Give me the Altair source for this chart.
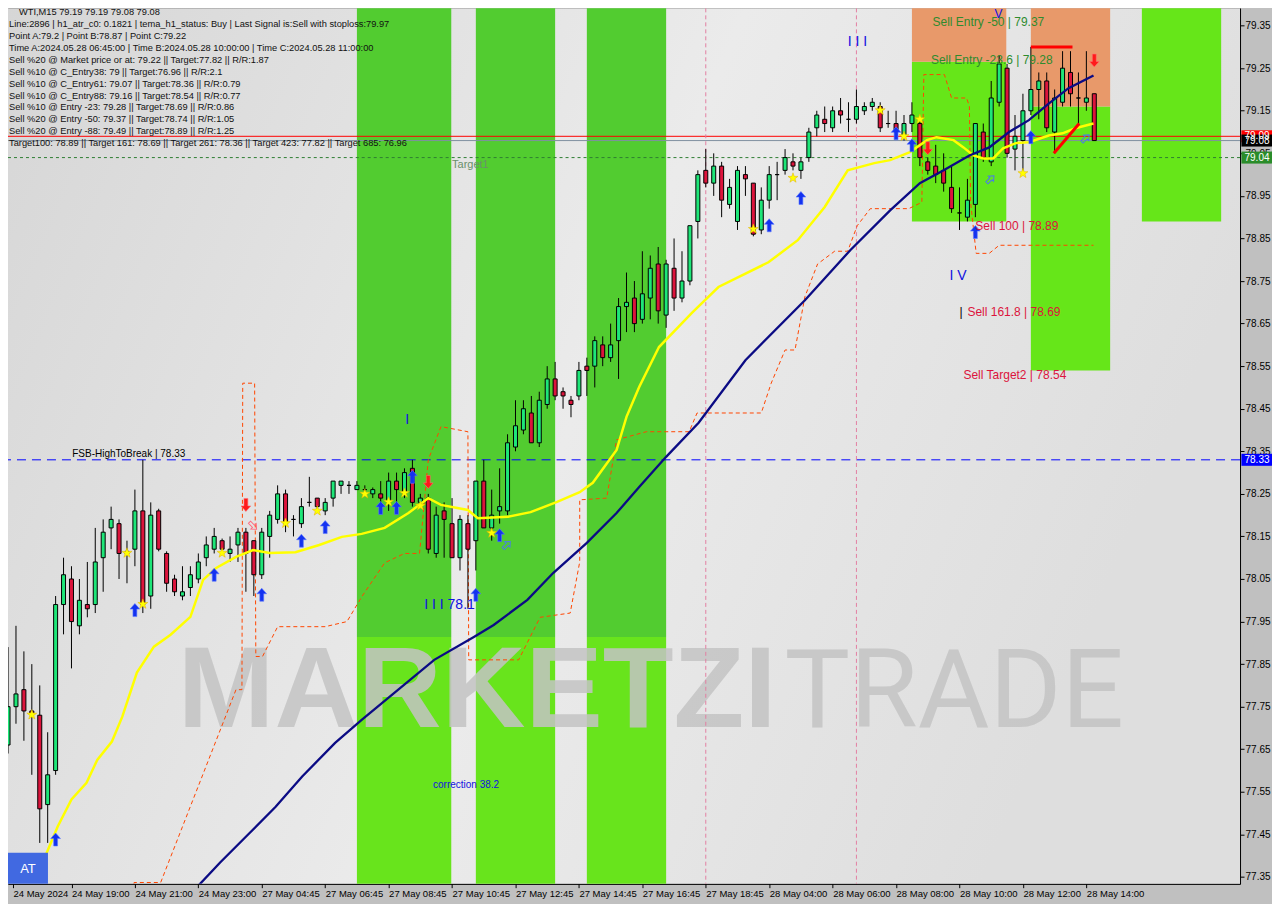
import json
import altair as alt
import pandas as pd

# ---------------- layout / scales ----------------
W, H = 1233, 876
PX_PER_BAR = 8.0
PX_PER_PRICE = 426.0
X0 = 0.625
X1 = X0 + W / PX_PER_BAR
Y1 = 79.3906
Y0 = Y1 - H / PX_PER_PRICE
FONT = "Liberation Sans"

# ---------------- data ----------------
tick_labels = ["24 May 2024", "24 May 19:00", "24 May 21:00", "24 May 23:00", "27 May 04:45",
               "27 May 06:45", "27 May 08:45", "27 May 10:45", "27 May 12:45", "27 May 14:45",
               "27 May 16:45", "27 May 18:45", "28 May 04:00", "28 May 06:00", "28 May 08:00",
               "28 May 10:00", "28 May 12:00", "28 May 14:00"]
tick_bars = [0.625, 8, 16, 24, 32, 40, 48, 56, 64, 72, 80, 88, 96, 104, 112, 120, 128, 136]
price_ticks = [77.35, 77.45, 77.55, 77.65, 77.75, 77.85, 77.95, 78.05, 78.15, 78.25, 78.35,
               78.45, 78.55, 78.65, 78.75, 78.85, 78.95, 79.05, 79.15, 79.25, 79.35]

open_ = [77.66, 77.75, 77.79, 77.74, 77.73, 77.52, 77.60, 77.99, 78.05, 77.94,
         77.99, 77.99, 78.10, 78.17, 78.18, 78.11, 78.12, 78.21, 78.01, 78.21,
         78.11, 78.05, 78.01, 78.03, 78.05, 78.10, 78.12, 78.14, 78.11, 78.13,
         78.16, 78.14, 78.06, 78.15, 78.19, 78.25, 78.19, 78.18, 78.23, 78.24,
         78.21, 78.24, 78.27, 78.27, 78.26, 78.26, 78.25, 78.25, 78.23, 78.28,
         78.25, 78.31, 78.23, 78.24, 78.11, 78.21, 78.18, 78.10, 78.18, 78.14,
         78.28, 78.17, 78.21, 78.21, 78.36, 78.40, 78.44, 78.37, 78.46, 78.52,
         78.49, 78.47, 78.48, 78.55, 78.55, 78.60, 78.57, 78.61, 78.69, 78.71,
         78.66, 78.71, 78.79, 78.67, 78.78, 78.71, 78.75, 78.89, 79.01, 78.98,
         79.02, 78.93, 78.89, 79.00, 78.98, 78.87, 78.94, 79.00, 79.01, 79.03,
         79.01, 79.04, 79.11, 79.13, 79.11, 79.15, 79.13, 79.13, 79.15, 79.16,
         79.16, 79.12, 79.12, 79.09, 79.12, 79.12, 79.03, 79.02, 79.01, 78.97,
         78.91, 78.90, 78.93, 79.10, 79.03, 79.17, 79.25, 79.06, 79.08, 79.15,
         79.20, 79.22, 79.10, 79.17, 79.24, 79.18, 79.17, 79.19]
high_ = [77.89, 77.94, 77.88, 77.85, 77.80, 77.69, 78.01, 78.10, 78.08, 78.05,
         78.09, 78.17, 78.19, 78.22, 78.19, 78.14, 78.26, 78.33, 78.23, 78.215,
         78.115, 78.06, 78.08, 78.08, 78.11, 78.15, 78.17, 78.145, 78.15, 78.17,
         78.17, 78.14, 78.17, 78.21, 78.27, 78.26, 78.20, 78.24, 78.29, 78.24,
         78.24, 78.28, 78.28, 78.28, 78.28, 78.27, 78.265, 78.28, 78.30, 78.30,
         78.31, 78.33, 78.25, 78.25, 78.22, 78.23, 78.24, 78.20, 78.20, 78.28,
         78.33, 78.26, 78.31, 78.39, 78.47, 78.47, 78.48, 78.49, 78.55, 78.56,
         78.50, 78.48, 78.56, 78.57, 78.62, 78.62, 78.65, 78.71, 78.77, 78.75,
         78.82, 78.81, 78.83, 78.80, 78.85, 78.82, 78.88, 79.01, 79.06, 79.05,
         79.03, 78.99, 79.02, 79.02, 78.98, 78.97, 79.02, 79.03, 79.06, 79.05,
         79.04, 79.11, 79.15, 79.16, 79.16, 79.18, 79.17, 79.20, 79.17, 79.18,
         79.17, 79.15, 79.15, 79.14, 79.17, 79.13, 79.04, 79.07, 79.05, 79.02,
         78.97, 78.99, 79.12, 79.12, 79.22, 79.28, 79.26, 79.14, 79.19, 79.30,
         79.24, 79.24, 79.20, 79.29, 79.29, 79.24, 79.29, 79.19]
low_ = [77.64, 77.71, 77.67, 77.59, 77.43, 77.43, 77.59, 77.92, 77.84, 77.92,
        77.96, 77.97, 78.02, 78.12, 78.05, 78.04, 78.08, 77.97, 77.98, 78.115,
        78.02, 78.01, 78.00, 78.01, 78.04, 78.08, 78.11, 78.11, 78.09, 78.09,
        78.02, 78.01, 78.05, 78.10, 78.18, 78.16, 78.15, 78.17, 78.22, 78.21,
        78.20, 78.22, 78.25, 78.25, 78.26, 78.25, 78.24, 78.22, 78.21, 78.21,
        78.24, 78.22, 78.22, 78.11, 78.10, 78.10, 78.10, 78.07, 77.98, 78.07,
        78.17, 78.14, 78.18, 78.20, 78.35, 78.39, 78.37, 78.36, 78.45, 78.47,
        78.45, 78.43, 78.47, 78.48, 78.50, 78.55, 78.56, 78.52, 78.63, 78.63,
        78.65, 78.66, 78.65, 78.64, 78.68, 78.70, 78.74, 78.85, 78.97, 78.95,
        78.90, 78.92, 78.87, 78.95, 78.855, 78.86, 78.92, 78.94, 79.00, 79.01,
        78.99, 79.03, 79.09, 79.10, 79.10, 79.12, 79.10, 79.12, 79.14, 79.15,
        79.10, 79.11, 79.09, 79.08, 79.10, 79.02, 79.00, 78.98, 78.96, 78.91,
        78.87, 78.89, 78.90, 79.03, 79.02, 79.16, 79.04, 79.01, 79.00, 79.14,
        79.13, 79.10, 79.05, 79.16, 79.16, 79.12, 79.15, 79.08]
close_ = [77.75, 77.78, 77.74, 77.735, 77.51, 77.59, 77.99, 78.06, 77.95, 78.00,
          77.98, 78.09, 78.16, 78.19, 78.11, 78.115, 78.21, 77.99, 78.20, 78.12,
          78.04, 78.02, 78.02, 78.06, 78.09, 78.13, 78.15, 78.12, 78.12, 78.16,
          78.11, 78.06, 78.16, 78.20, 78.25, 78.18, 78.19, 78.22, 78.23, 78.22,
          78.23, 78.28, 78.28, 78.27, 78.27, 78.26, 78.26, 78.24, 78.28, 78.26,
          78.30, 78.23, 78.24, 78.12, 78.20, 78.19, 78.10, 78.19, 78.12, 78.28,
          78.17, 78.20, 78.22, 78.37, 78.41, 78.45, 78.37, 78.47, 78.52, 78.48,
          78.48, 78.46, 78.54, 78.54, 78.61, 78.57, 78.60, 78.69, 78.70, 78.65,
          78.72, 78.78, 78.68, 78.79, 78.71, 78.75, 78.88, 79.00, 78.98, 79.02,
          78.94, 78.97, 79.01, 78.99, 78.86, 78.94, 79.00, 79.00, 79.04, 79.02,
          79.03, 79.10, 79.14, 79.12, 79.15, 79.14, 79.13, 79.16, 79.16, 79.17,
          79.11, 79.12, 79.10, 79.12, 79.14, 79.04, 79.01, 79.00, 78.98, 78.92,
          78.91, 78.94, 79.12, 79.04, 79.18, 79.26, 79.05, 79.09, 79.15, 79.20,
          79.22, 79.11, 79.18, 79.25, 79.19, 79.18, 79.18, 79.08]

# yellow fast average
yel_x = [4.1, 6.25, 8.0, 9.9, 11.25, 13.1, 14.4, 16.25, 18.4, 20.5, 23.0, 24.6, 26.25, 28.75,
         30.9, 33.0, 36.25, 39.25, 42.1, 44.6, 47.5, 50.5, 53.0, 54.6, 58.0, 59.25, 63.0, 65.9,
         69.25, 72.1, 73.75, 76.75, 78.0, 79.6, 82.1, 86.25, 89.6, 95.9, 99.6, 103.0, 105.9,
         109.25, 111.25, 113.75, 115.9, 117.1, 119.25, 120.5, 121.75, 123.0, 124.25, 125.5,
         127.1, 128.75, 131.25, 133.0, 134.6, 136.9]
yel_p = [77.372, 77.468, 77.532, 77.571, 77.625, 77.668, 77.726, 77.83, 77.891, 77.919, 77.961,
         78.048, 78.076, 78.102, 78.118, 78.111, 78.113, 78.13, 78.149, 78.156, 78.17, 78.205,
         78.24, 78.224, 78.212, 78.193, 78.196, 78.207, 78.231, 78.254, 78.276, 78.353, 78.431,
         78.501, 78.595, 78.675, 78.736, 78.794, 78.846, 78.924, 79.01, 79.027, 79.034, 79.053,
         79.081, 79.088, 79.081, 79.064, 79.045, 79.038, 79.038, 79.062, 79.074, 79.076, 79.092,
         79.097, 79.109, 79.12]

# navy slow average
navy_x = [21.5, 26.75, 30.5, 33.75, 37.1, 41.25, 44.6, 53.75, 58.75, 61.25, 65.5, 68.75, 73.0,
          76.75, 79.6, 83.0, 87.1, 93.0, 100.5, 106.25, 111.25, 115.0, 118.0, 121.25, 123.75,
          126.25, 128.75, 131.25, 133.75, 136.9]
navy_p = [77.28, 77.384, 77.454, 77.515, 77.586, 77.665, 77.719, 77.86, 77.914, 77.942, 78.001,
          78.064, 78.135, 78.205, 78.266, 78.337, 78.417, 78.564, 78.705, 78.823, 78.916, 78.98,
          79.01, 79.045, 79.064, 79.10, 79.128, 79.167, 79.203, 79.233]

# orange trailing stop (step line)
stop_x = [15.6, 15.9, 19.25, 28.75, 29.5, 29.6, 31.1, 31.25, 32.1, 34.0, 40.0, 42.75, 44.6, 47.5,
          50.0, 51.9, 53.0, 54.6, 58.0, 58.1, 64.4, 67.1, 70.9, 72.1, 72.1, 75.5, 76.75, 80.5,
          85.9, 86.9, 95.0, 96.25, 98.0, 99.25, 100.5, 102.1, 104.25, 105.9, 107.1, 108.75,
          113.6, 115.25, 115.5, 118.1, 119.0, 120.9, 121.25, 121.4, 122.1, 123.75, 125.0, 136.9]
stop_p = [77.285, 77.337, 77.337, 77.79, 77.79, 78.51, 78.51, 77.868, 77.868, 77.938, 77.938,
          77.95, 78.008, 78.088, 78.11, 78.11, 78.33, 78.408, 78.396, 77.86, 77.86, 77.96, 77.97,
          78.09, 78.236, 78.24, 78.377, 78.396, 78.396, 78.44, 78.44, 78.51, 78.588, 78.588,
          78.713, 78.79, 78.82, 78.82, 78.88, 78.92, 78.92, 78.935, 79.235, 79.235, 79.18,
          79.18, 79.16, 78.935, 78.815, 78.815, 78.834, 78.834]

# green session bands
band_x0 = [44.0, 59.0, 73.0]
band_x1 = [55.9, 69.0, 83.0]
band_split = 77.914

# sell zones
zone_x0 = [114.0, 114.0, 129.0, 129.0, 143.0]
zone_x1 = [125.9, 125.9, 139.0, 139.0, 153.0]
zone_lo = [78.89, 79.265, 78.54, 79.16, 78.89]
zone_hi = [79.265, 79.49, 79.16, 79.49, 79.49]
zone_kind = ["green", "orange", "green", "orange", "green"]

# signal markers
up_x = [6, 16, 26, 32, 37, 40, 47, 49, 51, 59, 62, 96, 100, 112, 114, 122, 129]
up_p = [77.438, 77.977, 78.06, 78.013, 78.14, 78.172, 78.217, 78.217, 78.29, 78.013, 78.153,
        78.881, 78.945, 79.097, 79.069, 78.865, 79.088]
dn_x = [30, 53, 116, 137]
dn_p = [78.224, 78.278, 79.062, 79.268]
star_x = [3, 15, 17, 27, 35, 39, 45, 48, 50, 52, 61, 94, 99, 110, 113, 115, 128]
star_p = [77.731, 78.111, 77.991, 78.111, 78.181, 78.21, 78.25, 78.231, 78.252, 78.222, 78.158,
          78.872, 78.992, 79.151, 79.09, 79.13, 79.003]
hol_up_x = [62.9, 123.9, 135.9]
hol_up_p = [78.13, 78.989, 79.085]
hol_dn_x = [30.9]
hol_dn_p = [78.175]

# levels
bid_level = 79.08
red_level = 79.09
target_level = 79.04
fsb_level = 78.33
vline_bars = [88, 107]
pointc_x = [129.0, 134.25]
pointc_p = [79.30, 79.30]
diag_x = [131.9, 135.1]
diag_p = [79.05, 79.12]

# annotations
green_txt = ["Sell Entry -50 | 79.37", "Sell Entry -23.6 | 79.28"]
green_x = [116.6, 116.4]
green_p = [79.37, 79.28]
sell_txt = ["Sell 100 | 78.89", "Sell 161.8 | 78.69", "Sell Target2 | 78.54"]
sell_x = [122.0, 121.0, 120.5]
sell_p = [78.89, 78.69, 78.54]
wave_txt = ["I I I 78.1", "I V", "I I I", "I"]
wave_x = [52.5, 118.75, 105.9, 50.1]
wave_p = [77.989, 78.762, 79.311, 78.423]
top_wave_txt = ["V"]
top_wave_x = [124.4]
top_wave_p = [79.3906]

header_first = "WTI,M15  79.19 79.19 79.08 79.08"
header_lines = [
    "Line:2896 | h1_atr_c0: 0.1821 | tema_h1_status: Buy | Last Signal is:Sell with stoploss:79.97",
    "Point A:79.2 | Point B:78.87 | Point C:79.22",
    "Time A:2024.05.28 06:45:00 | Time B:2024.05.28 10:00:00 | Time C:2024.05.28 11:00:00",
    "Sell %20 @ Market price or at: 79.22 || Target:77.82 || R/R:1.87",
    "Sell %10 @ C_Entry38: 79 || Target:76.96 || R/R:2.1",
    "Sell %10 @ C_Entry61: 79.07 || Target:78.36 || R/R:0.79",
    "Sell %10 @ C_Entry88: 79.16 || Target:78.54 || R/R:0.77",
    "Sell %10 @ Entry -23: 79.28 || Target:78.69 || R/R:0.86",
    "Sell %20 @ Entry -50: 79.37 || Target:78.74 || R/R:1.05",
    "Sell %20 @ Entry -88: 79.49 || Target:78.89 || R/R:1.25",
    "Target100: 78.89 || Target 161: 78.69 || Target 261: 78.36 || Target 423: 77.82 || Target 685: 76.96",
]

box_lbl = ["79.09", "79.08", "79.04", "78.33"]
box_p = [79.09, 79.08, 79.04, 78.33]
box_kind = ["red", "black", "green", "blue"]

# ---------------- helpers ----------------
xs = alt.Scale(domain=[X0, X1], nice=False, zero=False)
ys = alt.Scale(domain=[Y0, Y1], nice=False, zero=False)

x_axis = alt.Axis(orient="bottom", values=tick_bars,
                  labelExpr=json.dumps(tick_labels) + "[round(datum.value/8)]",
                  labelAlign="left", labelBaseline="top", labelFont=FONT, labelFontSize=9.5,
                  labelColor="#000000", tickColor="#000000", domainColor="#000000", tickSize=4,
                  labelPadding=1, grid=False, title=None, labelOverlap=False, labelBound=False,
                  labelFlush=False)
y_axis = alt.Axis(orient="right", values=price_ticks, format=".2f", labelFont=FONT, labelFontSize=10,
                  labelColor="#000000", tickColor="#000000", domainColor="#000000", tickSize=4,
                  labelPadding=1, grid=False, title=None, labelOverlap=False, labelBound=False)


def ex(f):
    return alt.X(f, type="quantitative", scale=xs, axis=x_axis)


def ey(f):
    return alt.Y(f, type="quantitative", scale=ys, axis=y_axis)


def df(**cols):
    return pd.DataFrame(cols)


UP = "M0,-1L0.75,-0.15L0.3,-0.15L0.3,1L-0.3,1L-0.3,-0.15L-0.75,-0.15Z"
DN = "M0,1L0.75,0.15L0.3,0.15L0.3,-1L-0.3,-1L-0.3,0.15L-0.75,0.15Z"
STAR = ("M0,-1L0.235,-0.324L0.951,-0.309L0.38,0.124L0.588,0.809L0,0.4L-0.588,0.809"
        "L-0.38,0.124L-0.951,-0.309L-0.235,-0.324Z")
BOX = "M-2.6,-1H2.6V1H-2.6Z"

layers = []

# soft background shading of the chart window
bg_grad = alt.Gradient(gradient="linear", x1=0, y1=0, x2=1, y2=0.3,
                       stops=[alt.GradientStop(offset=0, color="#d6d6d6"),
                              alt.GradientStop(offset=0.55, color="#ebebeb"),
                              alt.GradientStop(offset=1, color="#dedede")])
layers.append(alt.Chart(df(t=[0])).mark_rect(color=bg_grad).encode(
    x=alt.value(0), x2=alt.value(W), y=alt.value(0), y2=alt.value(H)))

# bands
bands = df(x0=band_x0, x1=band_x1)
layers.append(alt.Chart(bands).mark_rect(color="#52cc30", opacity=1, clip=True).encode(
    x=ex("x0"), x2="x1", y=alt.Y(datum=79.5, scale=ys, axis=y_axis), y2=alt.Y2(datum=band_split)))
layers.append(alt.Chart(bands).mark_rect(color="#68e41c", opacity=1, clip=True).encode(
    x=ex("x0"), x2="x1", y=alt.Y(datum=band_split, scale=ys, axis=y_axis), y2=alt.Y2(datum=77.2)))

zones = df(x0=zone_x0, x1=zone_x1, lo=zone_lo, hi=zone_hi, kind=zone_kind)
layers.append(alt.Chart(zones).mark_rect(opacity=1, clip=True).encode(
    x=ex("x0"), x2="x1", y=ey("lo"), y2="hi",
    color=alt.Color("kind:N", scale=alt.Scale(domain=["green", "orange"], range=["#66e619", "#e8996a"]),
                    legend=None)))

# watermark
wm = df(t=["MARKETZI"])
layers.append(alt.Chart(wm).mark_text(align="left", baseline="alphabetic", font=FONT, fontSize=116,
                                       fontWeight=900, color="#c4c4c4", opacity=0.85).encode(
    text="t:N", x=alt.value(170), y=alt.value(719)))
wm2 = df(t=["TRADE"])
layers.append(alt.Chart(wm2).mark_text(align="left", baseline="alphabetic", font="Roboto",
                                        fontSize=110, fontWeight=400, color="#c4c4c4",
                                        opacity=0.85).encode(
    text="t:N", x=alt.value(777), y=alt.value(719)))

# horizontal / vertical levels
layers.append(alt.Chart(df(p=[fsb_level])).mark_rule(color="#0000ff", strokeDash=[9, 6], strokeWidth=1).encode(y=ey("p")))
layers.append(alt.Chart(df(p=[target_level])).mark_rule(color="#2e7d32", strokeDash=[3, 3], strokeWidth=1).encode(y=ey("p")))
layers.append(alt.Chart(df(p=[bid_level])).mark_rule(color="#8090a0", strokeWidth=1).encode(y=ey("p")))
layers.append(alt.Chart(df(p=[red_level])).mark_rule(color="#ff0000", strokeWidth=1).encode(y=ey("p")))
layers.append(alt.Chart(df(b=vline_bars)).mark_rule(color="#e37fa3", strokeDash=[4, 3], strokeWidth=1).encode(x=ex("b")))

# trailing stop
layers.append(alt.Chart(df(b=stop_x, p=stop_p, i=list(range(len(stop_x))))).mark_line(
    color="#ff4500", strokeWidth=1, strokeDash=[4, 3], clip=True).encode(
    x=ex("b"), y=ey("p"), order=alt.Order("i:Q")))

# candles
cdf = pd.DataFrame({"bar": list(range(len(open_))), "open": open_, "high": high_, "low": low_,
                    "close": close_})
cdf["dir"] = ["up" if c >= o else "down" for o, c in zip(open_, close_)]

layers.append(alt.Chart(cdf).mark_rule(color="#000000", strokeWidth=1, clip=True).encode(
    x=ex("bar"), y=ey("low"), y2="high"))
layers.append(alt.Chart(cdf).mark_bar(size=4, stroke="#000000", strokeWidth=1, opacity=1, fillOpacity=1,
                                      clip=True).encode(
    x=ex("bar"), y=ey("open"), y2="close",
    fill=alt.Fill("dir:N", scale=alt.Scale(domain=["up", "down"], range=["#1ee678", "#dc143c"]),
                  legend=None)))

# averages
layers.append(alt.Chart(df(b=yel_x, p=yel_p)).mark_line(color="#ffff00", strokeWidth=2.5, clip=True).encode(
    x=ex("b"), y=ey("p")))
layers.append(alt.Chart(df(b=navy_x, p=navy_p)).mark_line(color="#0b0b84", strokeWidth=2.3, clip=True).encode(
    x=ex("b"), y=ey("p")))

# point C marks
layers.append(alt.Chart(df(b=pointc_x, p=pointc_p)).mark_line(color="#ff0000", strokeWidth=3, clip=True).encode(
    x=ex("b"), y=ey("p")))
layers.append(alt.Chart(df(b=diag_x, p=diag_p)).mark_line(color="#ff0000", strokeWidth=3, clip=True).encode(
    x=ex("b"), y=ey("p")))

# markers
layers.append(alt.Chart(df(b=up_x, p=up_p)).mark_point(shape=UP, size=169, filled=True, fill="#1432f0",
                                                      stroke="#5a78ff", strokeWidth=0.6, opacity=1,
                                                      clip=True).encode(x=ex("b"), y=ey("p")))
layers.append(alt.Chart(df(b=dn_x, p=dn_p)).mark_point(shape=DN, size=169, filled=True, fill="#ff1a1a",
                                                      stroke="#ff7070", strokeWidth=0.6, opacity=1,
                                                      clip=True).encode(x=ex("b"), y=ey("p")))
layers.append(alt.Chart(df(b=star_x, p=star_p)).mark_point(shape=STAR, size=110, filled=True, fill="#ffff00",
                                                          stroke="#e0b000", strokeWidth=0.5, opacity=1,
                                                          clip=True).encode(x=ex("b"), y=ey("p")))
layers.append(alt.Chart(df(b=hol_up_x, p=hol_up_p)).mark_point(shape=UP, size=100, filled=False, angle=45,
                                                              stroke="#4a7be8", strokeWidth=1, opacity=1,
                                                              clip=True).encode(x=ex("b"), y=ey("p")))
layers.append(alt.Chart(df(b=hol_dn_x, p=hol_dn_p)).mark_point(shape=UP, size=100, filled=False, angle=135,
                                                              stroke="#ff6a80", strokeWidth=1, opacity=1,
                                                              clip=True).encode(x=ex("b"), y=ey("p")))

# annotations
layers.append(alt.Chart(df(t=green_txt, b=green_x, p=green_p)).mark_text(
    align="left", baseline="top", font=FONT, fontSize=12, color="#2e8b2e", clip=True).encode(
    text="t:N", x=ex("b"), y=ey("p")))
layers.append(alt.Chart(df(t=sell_txt, b=sell_x, p=sell_p)).mark_text(
    align="left", baseline="top", font=FONT, fontSize=12, color="#dc143c", clip=True).encode(
    text="t:N", x=ex("b"), y=ey("p")))
layers.append(alt.Chart(df(t=["|"], b=[120.0], p=[78.69])).mark_text(
    align="left", baseline="top", font=FONT, fontSize=12, color="#000000", clip=True).encode(
    text="t:N", x=ex("b"), y=ey("p")))
layers.append(alt.Chart(df(t=wave_txt, b=wave_x, p=wave_p)).mark_text(
    align="left", baseline="middle", font=FONT, fontSize=14, color="#1010e0", clip=True).encode(
    text="t:N", x=ex("b"), y=ey("p")))
layers.append(alt.Chart(df(t=top_wave_txt, b=top_wave_x, p=top_wave_p)).mark_text(
    align="left", baseline="top", font=FONT, fontSize=12, color="#1010e0", dy=1).encode(
    text="t:N", x=ex("b"), y=ey("p")))
layers.append(alt.Chart(df(t=["correction 38.2"], b=[53.6], p=[77.565])).mark_text(
    align="left", baseline="middle", font=FONT, fontSize=10, color="#1010e0", clip=True).encode(
    text="t:N", x=ex("b"), y=ey("p")))
layers.append(alt.Chart(df(t=["FSB-HighToBreak | 78.33"], b=[8.1], p=[fsb_level])).mark_text(
    align="left", baseline="bottom", font=FONT, fontSize=10, color="#000000", dy=-1, clip=True).encode(
    text="t:N", x=ex("b"), y=ey("p")))
layers.append(alt.Chart(df(t=["Target1"], b=[56.0], p=[target_level])).mark_text(
    align="left", baseline="top", font=FONT, fontSize=11, color="#6a906a", dy=1, clip=True).encode(
    text="t:N", x=ex("b"), y=ey("p")))

# header
layers.append(alt.Chart(df(t=[header_first])).mark_text(
    align="left", baseline="top", font=FONT, fontSize=9.3, color="#111111").encode(
    text="t:N", x=alt.value(11), y=alt.value(0)))
layers.append(alt.Chart(df(t=["\n".join(header_lines)])).mark_text(
    align="left", baseline="top", font=FONT, fontSize=9.3, color="#111111", lineBreak="\n",
    lineHeight=11.9).encode(text="t:N", x=alt.value(1), y=alt.value(11.9)))

# AT button
layers.append(alt.Chart(df(t=["AT"])).mark_rect(color="#4169e1").encode(
    x=alt.value(0), x2=alt.value(40), y=alt.value(H - 31), y2=alt.value(H)))
layers.append(alt.Chart(df(t=["AT"])).mark_text(font=FONT, fontSize=13, color="#ffffff").encode(
    text="t:N", x=alt.value(20), y=alt.value(H - 15)))

# price boxes on the axis
boxes = df(lbl=box_lbl, p=box_p, kind=box_kind)
layers.append(alt.Chart(boxes).mark_point(shape=BOX, size=144, filled=True, opacity=1, strokeWidth=0).encode(
    x=alt.value(W + 17), y=ey("p"),
    fill=alt.Fill("kind:N", scale=alt.Scale(domain=["red", "black", "green", "blue"],
                                            range=["#ff0000", "#000000", "#2a8c2a", "#0000ff"]),
                  legend=None)))
layers.append(alt.Chart(boxes).mark_text(font=FONT, fontSize=10, color="#ffffff", align="center",
                                         baseline="middle").encode(
    text="lbl:N", x=alt.value(W + 17), y=ey("p")))

chart = alt.layer(*layers).resolve_scale(fill="independent").properties(
    width=W, height=H, background="#c0c0c0",
    padding={"left": 0, "top": 0, "right": 32, "bottom": 20},
    autosize=alt.AutoSizeParams(type="none"),
).configure_view(stroke="#000000", strokeWidth=1, fill="#e0e0e0")

chart.save("out.html", embed_options={"renderer": "svg", "actions": False})
